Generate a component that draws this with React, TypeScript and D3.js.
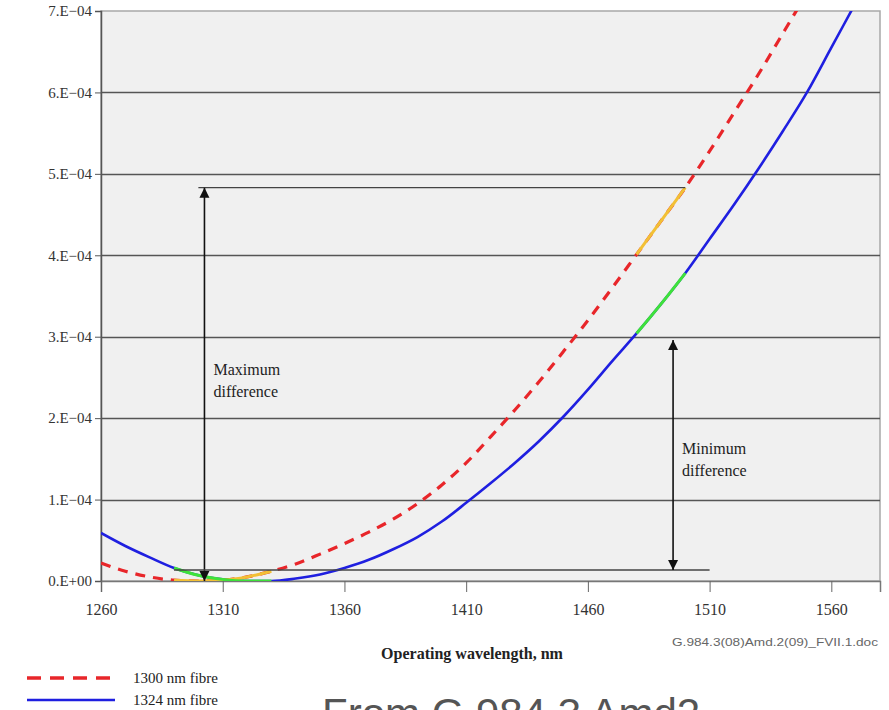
import { useEffect, useRef } from "react";
import * as d3 from "d3";

// wavelength grid (nm)
const wavelengths = [
  1260, 1270, 1280, 1290, 1300, 1310, 1320, 1330, 1340, 1350, 1360, 1370,
  1380, 1390, 1400, 1410, 1420, 1430, 1440, 1450, 1460, 1470, 1480, 1490,
  1500, 1510, 1520, 1530, 1540, 1550, 1560, 1570,
];

// 1300 nm fibre (red dashed)
const fibre1300 = [
  2.2e-5, 1.2e-5, 0.5e-5, 0.1e-5, 0, 0.1e-5, 0.5e-5, 1.2e-5, 2.1e-5, 3.3e-5,
  4.6e-5, 6.0e-5, 7.6e-5, 9.5e-5, 1.18e-4, 1.45e-4, 1.77e-4, 2.1e-4,
  2.45e-4, 2.82e-4, 3.2e-4, 3.6e-4, 4.01e-4, 4.42e-4, 4.83e-4, 5.28e-4,
  5.75e-4, 6.22e-4, 6.72e-4, 7.22e-4,
];

// 1324 nm fibre (blue)
const fibre1324 = [
  5.9e-5, 4.3e-5, 2.9e-5, 1.6e-5, 0.7e-5, 0.2e-5, 0, 0, 0.3e-5, 0.8e-5,
  1.6e-5, 2.6e-5, 3.9e-5, 5.4e-5, 7.3e-5, 9.6e-5, 1.2e-4, 1.45e-4, 1.72e-4,
  2.02e-4, 2.35e-4, 2.7e-4, 3.04e-4, 3.4e-4, 3.78e-4, 4.2e-4, 4.62e-4,
  5.06e-4, 5.52e-4, 6.0e-4, 6.55e-4, 7.1e-4,
];

// highlighted wavelength bands
const bands: [number, number][] = [
  [1290, 1330],
  [1480, 1500],
];

const xTicks = [1260, 1310, 1360, 1410, 1460, 1510, 1560];
const yTicks = [0, 1e-4, 2e-4, 3e-4, 4e-4, 5e-4, 6e-4, 7e-4];
const yTickLabels = ["0.E+00", "1.E\u221204", "2.E\u221204", "3.E\u221204", "4.E\u221204", "5.E\u221204", "6.E\u221204", "7.E\u221204"];

// annotations: arrow wavelength, lower/upper value, reference line extent
const maxDiff = { x: 1302.5, lo: 0, hi: 4.83e-4, level: 4.83e-4, lineFrom: 1300, lineTo: 1500 };
const minDiff = { x: 1495, lo: 1.35e-5, hi: 2.96e-4, level: 1.35e-5, lineFrom: 1290, lineTo: 1510 };

const W = 889;
const H = 710;
const serif = "'Liberation Serif', 'DejaVu Serif', serif";

export default function App() {
  const ref = useRef<SVGSVGElement>(null);

  useEffect(() => {
    const svg = d3.select(ref.current);
    svg.selectAll("*").remove();

    const x = d3.scaleLinear().domain([1260, 1580]).range([101, 880]);
    const y = d3.scaleLinear().domain([0, 7e-4]).range([581, 11]);

    const defs = svg.append("defs");
    defs.append("clipPath").attr("id", "plot")
      .append("rect").attr("x", 101).attr("y", 11).attr("width", 779).attr("height", 570);
    defs.append("marker")
      .attr("id", "arr").attr("viewBox", "0 0 10 10")
      .attr("refX", 10).attr("refY", 5)
      .attr("markerWidth", 10).attr("markerHeight", 12)
      .attr("markerUnits", "userSpaceOnUse")
      .attr("orient", "auto-start-reverse")
      .append("path").attr("d", "M0,0 L10,5 L0,10 Z").attr("fill", "#111");

    // plot background
    svg.append("rect")
      .attr("x", 101).attr("y", 11).attr("width", 779).attr("height", 570)
      .attr("fill", "#f0f0f0").attr("stroke", "#a8a8a8").attr("stroke-width", 1.5);

    // gridlines
    svg.append("g").selectAll("line")
      .data(yTicks.slice(1, -1))
      .join("line")
      .attr("x1", 101).attr("x2", 880)
      .attr("y1", (d) => Math.round(y(d)) + 0.5).attr("y2", (d) => Math.round(y(d)) + 0.5)
      .attr("stroke", "#555").attr("stroke-width", 1.3);

    // axes
    const yAxis = d3.axisLeft(y).tickValues(yTicks).tickSize(6)
      .tickFormat((_, i) => yTickLabels[i]);
    const gy = svg.append("g").attr("transform", "translate(101,0)").call(yAxis);
    gy.select(".domain").attr("stroke", "#555").attr("stroke-width", 1.5);
    gy.selectAll(".tick line").attr("stroke", "#555");
    gy.selectAll(".tick text")
      .attr("font-family", serif).attr("font-size", 15).attr("fill", "#333")
      .attr("x", -9).attr("dy", "0.32em");

    const xAxis = d3.axisBottom(x).tickValues(xTicks).tickSize(11).tickFormat(d3.format("d"));
    const gx = svg.append("g").attr("transform", "translate(0,581)").call(xAxis);
    gx.select(".domain").attr("stroke", "#777").attr("stroke-width", 1.5);
    gx.selectAll(".tick line").attr("stroke", "#666");
    gx.selectAll(".tick text")
      .attr("font-family", serif).attr("font-size", 16).attr("fill", "#333")
      .attr("y", 23).attr("dy", "0.71em");

    const plot = svg.append("g").attr("clip-path", "url(#plot)");

    const line = d3.line<[number, number]>()
      .x((d) => x(d[0])).y((d) => y(d[1]))
      .curve(d3.curveMonotoneX);

    const redPts: [number, number][] = fibre1300.map((v, i) => [wavelengths[i], v]);
    const bluePts: [number, number][] = fibre1324.map((v, i) => [wavelengths[i], v]);

    plot.append("path").attr("d", line(bluePts)).attr("fill", "none")
      .attr("stroke", "#1f1fe0").attr("stroke-width", 2.6);
    plot.append("path").attr("d", line(redPts)).attr("fill", "none")
      .attr("stroke", "#e8262a").attr("stroke-width", 3.2)
      .attr("stroke-dasharray", "10,8");

    bands.forEach(([a, b]) => {
      plot.append("path")
        .attr("d", line(redPts.filter((p) => p[0] >= a && p[0] <= b)))
        .attr("fill", "none").attr("stroke", "#f2c035").attr("stroke-width", 3);
      plot.append("path")
        .attr("d", line(bluePts.filter((p) => p[0] >= a && p[0] <= b)))
        .attr("fill", "none").attr("stroke", "#3ee23a").attr("stroke-width", 3);
    });

    // annotation lines and arrows
    const ann = svg.append("g");
    [maxDiff, minDiff].forEach((d) => {
      ann.append("line")
        .attr("x1", x(d.lineFrom)).attr("x2", x(d.lineTo))
        .attr("y1", y(d.level)).attr("y2", y(d.level))
        .attr("stroke", "#444").attr("stroke-width", 1.3);
      ann.append("line")
        .attr("x1", x(d.x)).attr("x2", x(d.x))
        .attr("y1", y(d.hi)).attr("y2", y(d.lo))
        .attr("stroke", "#111").attr("stroke-width", 1.6)
        .attr("marker-start", "url(#arr)").attr("marker-end", "url(#arr)");
    });

    const label = (px: number, py: number, lines: string[]) => {
      const t = ann.append("text").attr("font-family", serif).attr("font-size", 16).attr("fill", "#222");
      lines.forEach((s, i) => t.append("tspan").attr("x", px).attr("y", py + i * 22).text(s));
    };
    label(x(maxDiff.x) + 9, 375, ["Maximum", "difference"]);
    label(x(minDiff.x) + 9, 454, ["Minimum", "difference"]);

    // axis title and doc reference
    svg.append("text").attr("x", 472).attr("y", 659).attr("text-anchor", "middle")
      .attr("font-family", serif).attr("font-size", 16).attr("font-weight", "bold").attr("fill", "#222")
      .text("Operating wavelength, nm");
    svg.append("text").attr("x", 878).attr("y", 646).attr("text-anchor", "end")
      .attr("font-family", "'Liberation Sans', Arial, sans-serif").attr("font-size", 10).attr("fill", "#666")
      .attr("textLength", 206).attr("lengthAdjust", "spacingAndGlyphs")
      .text("G.984.3(08)Amd.2(09)_FVII.1.doc");

    // legend
    const lg = svg.append("g");
    lg.append("line").attr("x1", 27).attr("x2", 115).attr("y1", 678).attr("y2", 678)
      .attr("stroke", "#e8262a").attr("stroke-width", 3.5).attr("stroke-dasharray", "14,9");
    lg.append("line").attr("x1", 27).attr("x2", 115).attr("y1", 700).attr("y2", 700)
      .attr("stroke", "#1f1fe0").attr("stroke-width", 2.6);
    lg.append("text").attr("x", 133).attr("y", 683).attr("font-family", serif).attr("font-size", 15)
      .attr("fill", "#222").text("1300 nm fibre");
    lg.append("text").attr("x", 133).attr("y", 705).attr("font-family", serif).attr("font-size", 15)
      .attr("fill", "#222").text("1324 nm fibre");

    // caption, cut off by the bottom edge as in the source
    svg.append("text").attr("x", 322).attr("y", 728)
      .attr("font-family", "'Liberation Sans', Arial, sans-serif").attr("font-size", 42).attr("fill", "#555")
      .text("From G.984.3 Amd2");
  }, []);

  return (
    <div>
      <style>{"body{margin:0}"}</style>
      <svg ref={ref} width={W} height={H} style={{ display: "block", background: "#fff" }} />
    </div>
  );
}
